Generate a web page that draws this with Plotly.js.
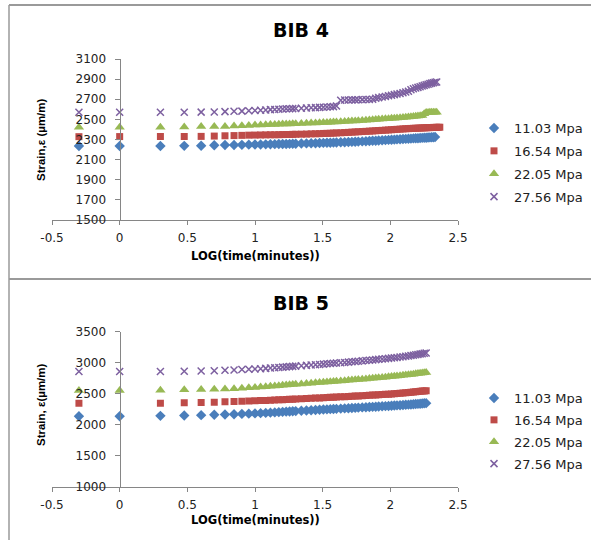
<!DOCTYPE html>
<html>
<head>
<meta charset="utf-8">
<script src="https://cdn.plot.ly/plotly-3.0.1.min.js"></script>
<style>html,body{margin:0;padding:0;background:#fff;}#chart{width:591px;height:540px;}</style>
</head>
<body>
<div id="chart"></div>
<script>
// Time in minutes (x axis shows LOG(time))
const timeMin = [0.5,1,2,3,4,5,6,7,8,9,10,11,12,13,14,15,16,17,18,19,20,22,24,26,28,30,32,34,36,38,40,43,46,49,52,55,58,62,66,70,74,78,82,87,92,97,102,107,112,118,124,130,136,142,148,154,160,166,172,178,184,190,196,202,208,214,220,226,232];

const seriesNames = ["11.03 Mpa", "16.54 Mpa", "22.05 Mpa", "27.56 Mpa"];

// BIB 4 strain (µm/m)
const bib4_1103 = [2235,2235,2236,2237,2238,2243,2245,2246,2247,2249,2250,
  2251,2252,2253,2254,2255,2255,2256,2257,2258,2258,
  2260,2261,2262,2263,2265,2266,2267,2268,2269,2270,
  2272,2273,2275,2276,2278,2279,
  2281,2283,2285,2287,2288,2290,
  2292,2294,2296,2298,2299,2301,
  2303,2305,2306,2308,2309,2311,2312,2313,2315,2316,2317,2318,2320,2321,2322,2323,2325];
const bib4_1654 = [2328,2329,2330,2330,2331,2334,2337,2339,2341,2343,2344,
  2345,2346,2347,2347,2348,2349,2350,2350,2351,2352,
  2353,2354,2356,2357,2358,2360,2361,2362,2364,2365,
  2367,2369,2371,2373,2375,2377,
  2379,2381,2383,2385,2387,2389,
  2391,2393,2395,2397,2399,2401,
  2403,2405,2407,2408,2410,2411,2412,2413,2414,2415,2416,2417,2418,2418,2419,2420,2420,2421,2421,2422];
const bib4_2205 = [2421,2421,2422,2423,2428,2429,2430,2434,2437,2440,2443,
  2445,2447,2449,2450,2452,2453,2454,2455,2456,2457,
  2459,2461,2463,2465,2467,2469,2470,2472,2473,2475,
  2477,2479,2481,2483,2485,2487,
  2490,2492,2494,2496,2498,2500,
  2503,2505,2507,2510,2512,2514,
  2517,2519,2522,2524,2527,2529,2532,2534,2537,2539,2555,2568,2569,2570,2570,2571,2571,2572];
const bib4_2756 = [2570,2570,2570,2571,2572,2574,2577,2580,2582,2585,2588,
  2591,2594,2597,2599,2601,2603,2605,2606,2607,2609,
  2611,2613,2615,2617,2619,2621,2623,2625,2627,2632,
  2690,2692,2693,2694,2694,2695,
  2696,2697,2698,2700,2710,2716,
  2722,2728,2734,2740,2746,2752,
  2758,2765,2772,2780,2795,2805,2812,2818,2825,2832,2838,2844,2850,2855,2860,2864,2868,2872];

// BIB 5 strain (µm/m)
const bib5_1103 = [2140,2140,2145,2152,2157,2162,2167,2172,2177,2181,2185,
  2189,2193,2197,2201,2205,2209,2213,2216,2219,2222,
  2227,2232,2236,2240,2244,2247,2250,2253,2256,2258,
  2262,2265,2268,2271,2274,2277,
  2281,2284,2287,2290,2293,2296,
  2299,2302,2305,2308,2311,2314,
  2317,2320,2323,2326,2329,2332,2335,2338,2341,2344,2347,2350];
const bib5_1654 = [2350,null,2350,2356,2362,2366,2372,2376,2380,2384,2388,
  2391,2394,2397,2400,2403,2406,2409,2412,2414,2416,
  2420,2424,2428,2431,2434,2437,2440,2443,2446,2448,
  2451,2454,2457,2460,2463,2466,
  2469,2473,2476,2479,2482,2485,
  2489,2492,2495,2498,2502,2505,
  2509,2513,2517,2521,2525,2529,2533,2537,2541,2544,2547,2550];
const bib5_2205 = [2555,2555,2556,2565,2570,2573,2578,2583,2590,2596,2602,
  2608,2614,2620,2626,2631,2636,2641,2645,2649,2653,
  2660,2666,2672,2677,2682,2686,2690,2694,2698,2702,
  2707,2712,2717,2721,2726,2730,
  2735,2740,2745,2750,2754,2758,
  2763,2768,2773,2778,2782,2787,
  2792,2797,2802,2807,2812,2817,2822,2827,2832,2836,2840,2845];
const bib5_2756 = [2858,2858,2858,2862,2866,2872,2878,2884,2890,2895,2900,
  2905,2910,2915,2920,2925,2930,2934,2938,2942,2946,
  2952,2958,2963,2968,2973,2978,2983,2987,2991,2995,
  3000,3005,3010,3015,3020,3025,
  3030,3035,3040,3045,3050,3055,
  3060,3066,3071,3076,3081,3086,
  3092,3098,3104,3110,3116,3122,3128,3134,3140,3146,3152,3158];

const xTickVals = [-0.5, 0, 0.5, 1, 1.5, 2, 2.5];
const xTickText = ["-0.5", "0", "0.5", "1", "1.5", "2", "2.5"];

const colors = ["#4A7EBB", "#BE4B48", "#98B954", "#7D60A0"];
const symbols = ["diamond", "square", "triangle-up", "x-thin"];
const sizes = [8, 7, 9, 7];

function makeTrace(vals, i, xa, ya, leg, grp) {
  const m = {symbol: symbols[i], size: sizes[i], color: colors[i]};
  if (symbols[i] === "x-thin") m.line = {color: colors[i], width: 1.5};
  else m.line = {width: 0};
  return {
    type: "scatter", mode: "markers",
    x: timeMin.slice(0, vals.length).map(Math.log10),
    y: vals, name: seriesNames[i], marker: m,
    xaxis: xa, yaxis: ya, legend: leg, legendgroup: grp + i,
    hoverinfo: "x+y"
  };
}

const bib4Series = [bib4_1103, bib4_1654, bib4_2205, bib4_2756];
const bib5Series = [bib5_1103, bib5_1654, bib5_2205, bib5_2756];
const data = [];
bib4Series.forEach((v, i) => data.push(makeTrace(v, i, "x", "y", "legend", "a")));
bib5Series.forEach((v, i) => data.push(makeTrace(v, i, "x2", "y2", "legend2", "b")));

const W = 591, H = 540;
const px = v => v / W, py = v => 1 - v / H;
const axisCol = "#868686";
const tickFont = {family: "DejaVu Sans", size: 12, color: "#222"};

const xBase = {
  range: [-0.5, 2.5], tickvals: xTickVals, ticktext: xTickText,
  showgrid: false, zeroline: false, showline: true, linecolor: axisCol, linewidth: 1,
  ticks: "outside", ticklen: 4, tickcolor: axisCol, tickfont: tickFont, ticklabelstandoff: 3
};
const yBase = {
  showgrid: false, zeroline: false, showline: true, linecolor: axisCol, linewidth: 1,
  ticks: "outside", ticklen: 5, tickcolor: axisCol, tickfont: tickFont, ticklabelstandoff: 6,
  anchor: "free", position: px(119.5)
};

const legBase = {
  xanchor: "left", yanchor: "top", bgcolor: "rgba(0,0,0,0)",
  font: {family: "DejaVu Sans", size: 13, color: "#222"}
};

const layout = {
  width: W, height: H,
  margin: {l: 0, r: 0, t: 0, b: 0, pad: 0},
  paper_bgcolor: "#fff", plot_bgcolor: "rgba(0,0,0,0)",
  font: {family: "DejaVu Sans", color: "#222"},
  showlegend: true,
  xaxis: Object.assign({}, xBase, {domain: [px(52), px(458)], anchor: "y"}),
  yaxis: Object.assign({}, yBase, {domain: [py(220), py(59)], range: [1500, 3100], dtick: 200, tick0: 1500}),
  xaxis2: Object.assign({}, xBase, {domain: [px(52), px(458)], anchor: "y2"}),
  yaxis2: Object.assign({}, yBase, {domain: [py(487), py(331.7)], range: [1000, 3500], dtick: 500, tick0: 1000}),
  legend: Object.assign({}, legBase, {x: px(474), y: py(113), tracegroupgap: 3}),
  legend2: Object.assign({}, legBase, {x: px(474), y: py(383), tracegroupgap: 2}),
  annotations: [
    {text: "<b>BIB 4</b>", xref: "paper", yref: "paper", x: px(301), y: py(30), showarrow: false,
     font: {family: "DejaVu Sans", size: 19, color: "#000"}, xanchor: "center", yanchor: "middle"},
    {text: "<b>BIB 5</b>", xref: "paper", yref: "paper", x: px(301), y: py(303), showarrow: false,
     font: {family: "DejaVu Sans", size: 19, color: "#000"}, xanchor: "center", yanchor: "middle"},
    {text: "<b>LOG(time(minutes))</b>", xref: "paper", yref: "paper", x: px(255), y: py(256), showarrow: false,
     font: {family: "DejaVu Sans", size: 11.5, color: "#000"}, xanchor: "center", yanchor: "middle"},
    {text: "<b>LOG(time(minutes))</b>", xref: "paper", yref: "paper", x: px(255), y: py(520), showarrow: false,
     font: {family: "DejaVu Sans", size: 11.5, color: "#000"}, xanchor: "center", yanchor: "middle"},
    {text: "<b>Strain,ε (µm/m)</b>", xref: "paper", yref: "paper", x: px(41), y: py(140), showarrow: false,
     textangle: -90, font: {family: "Liberation Sans", size: 11.5, color: "#000"}, xanchor: "center", yanchor: "middle"},
    {text: "<b>Strain, ε(µm/m)</b>", xref: "paper", yref: "paper", x: px(41), y: py(405), showarrow: false,
     textangle: -90, font: {family: "Liberation Sans", size: 11.5, color: "#000"}, xanchor: "center", yanchor: "middle"}
  ],
  shapes: [
    {type: "line", xref: "paper", yref: "paper", x0: px(9), x1: 1, y0: py(5), y1: py(5), line: {color: "#9a9a9a", width: 2}},
    {type: "line", xref: "paper", yref: "paper", x0: px(9), x1: 1, y0: py(279), y1: py(279), line: {color: "#9a9a9a", width: 2}},
    {type: "line", xref: "paper", yref: "paper", x0: px(9), x1: px(9), y0: py(5), y1: 0, line: {color: "#9a9a9a", width: 1.5}}
  ]
};

Plotly.newPlot("chart", data, layout, {displayModeBar: false, staticPlot: true});
</script>
</body>
</html>
